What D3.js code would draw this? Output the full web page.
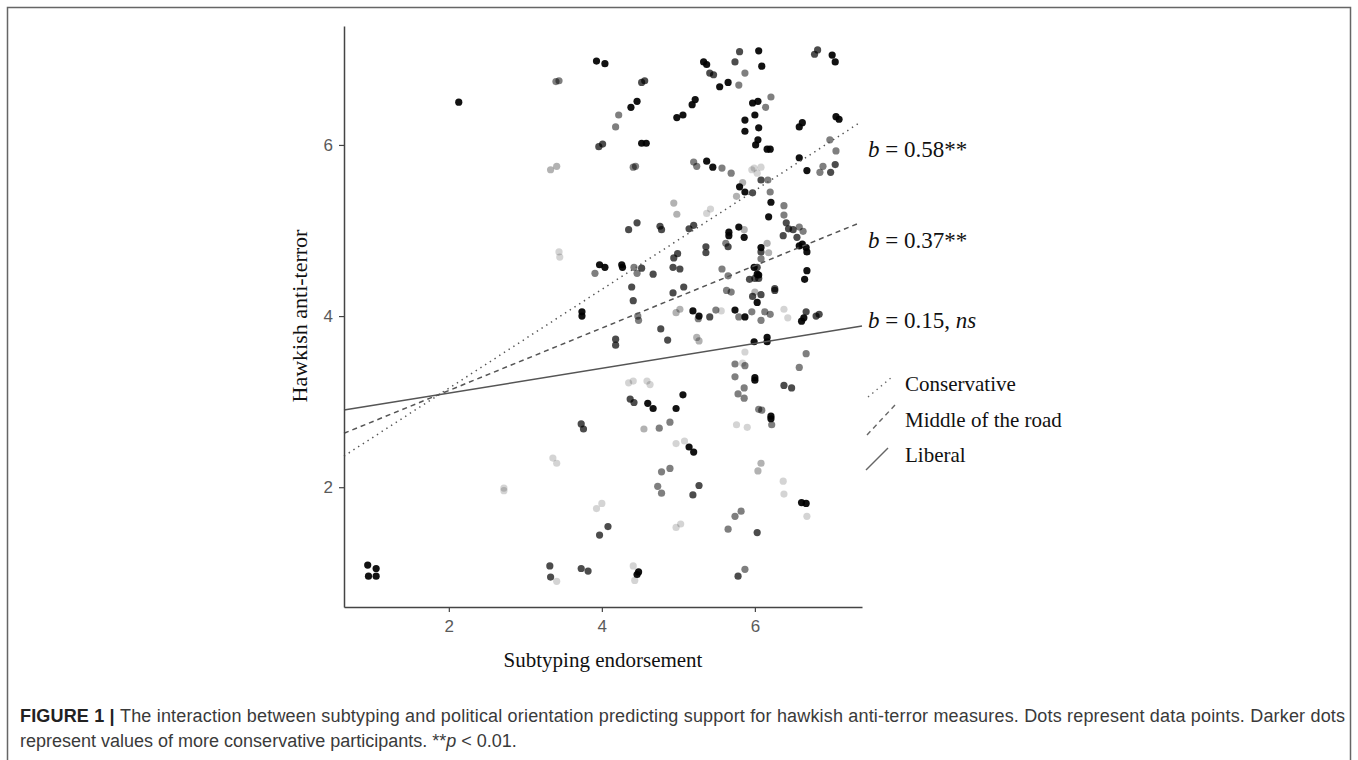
<!DOCTYPE html>
<html lang="en">
<head>
<meta charset="UTF-8">
<title>Subtyping and hawkish anti-terror support</title>
<script src="https://d3js.org/d3.v7.min.js"></script>
<style>
  body { margin: 0; background: #fff; }
  svg { display: block; }
  .tick text { font-family: "Liberation Sans", Arial, sans-serif; font-size: 17px; fill: #5a5a5a; }
  .serif { font-family: "Liberation Serif", "Times New Roman", serif; fill: #111; }
  .caption { font-family: "Liberation Sans", Arial, sans-serif; font-size: 18px; fill: #3a3a3a; }
</style>
</head>
<body>
<div id="chart"></div>
<script>
// points [subtyping, hawkish] grouped by political orientation (darker = more conservative)
const veryLiberal = [
  [5.37,5.20],[5.42,5.25],[5.96,5.71],[6.03,5.67],[6.08,5.74],[5.99,5.73],[5.56,4.06],
  [6.38,4.08],[6.43,3.98],[5.87,3.58],[5.84,3.45],[4.35,3.22],[4.41,3.24],[4.59,3.24],
  [4.63,3.20],[4.97,2.51],[5.08,2.54],[5.76,2.73],[5.90,2.70],[6.37,2.07],[6.38,1.92],
  [6.68,1.66],[4.97,1.53],[5.03,1.57],[4.41,1.08],[4.43,0.91],[3.41,0.90],[3.93,1.75],
  [4.00,1.81],[2.72,1.99],[2.72,1.96],[3.44,4.75],[3.45,4.69],[3.36,2.34],[3.41,2.28]
];
const liberal = [
  [3.33,5.71],[3.41,5.75],[4.94,5.32],[4.98,5.19],[5.84,5.56],[5.76,5.40],[6.16,4.85],
  [5.86,5.01],[6.18,4.74],[6.00,4.28],[4.97,4.04],[5.02,4.08],[5.24,3.75],[5.27,3.71],
  [4.55,2.68],[6.08,2.28],[6.04,2.19]
];
const middle = [
  [3.40,6.74],[3.44,6.75],[4.22,6.35],[4.18,6.21],[4.41,5.74],[4.44,5.75],[5.87,6.84],
  [5.79,6.70],[6.21,6.56],[6.14,6.44],[6.98,6.06],[7.06,5.93],[6.89,5.75],[6.85,5.68],
  [5.20,5.80],[5.24,5.75],[5.57,5.73],[5.69,5.67],[6.17,5.59],[6.20,5.45],[6.38,5.29],
  [6.38,5.18],[6.58,5.04],[6.63,4.99],[5.62,4.85],[3.91,4.50],[4.42,4.57],[4.46,4.50],
  [4.47,4.00],[4.48,3.95],[5.57,4.55],[5.65,4.47],[5.26,3.97],[5.49,4.07],[5.79,3.99],
  [5.96,4.05],[6.08,3.95],[6.13,4.05],[6.20,4.02],[5.63,4.30],[5.69,4.28],[6.08,4.67],
  [6.67,3.56],[6.58,3.40],[5.74,3.44],[5.87,3.42],[5.74,3.29],[5.86,3.16],[5.78,3.09],
  [5.86,3.04],[4.89,2.76],[4.75,2.69],[6.05,2.91],[6.09,2.90],[6.22,2.73],[4.78,2.18],
  [4.89,2.22],[4.73,2.01],[4.78,1.93],[5.65,1.51],[5.74,1.66],[5.82,1.72],[5.87,1.04]
];
const conservative = [
  [3.96,5.98],[4.01,6.01],[4.52,6.73],[4.56,6.75],[4.35,5.01],[4.46,5.09],[4.76,5.05],
  [4.78,5.01],[5.14,5.02],[5.20,5.06],[5.41,6.84],[5.46,6.82],[5.74,6.97],[5.80,7.09],
  [6.08,5.59],[5.97,5.44],[6.41,5.09],[6.44,5.02],[6.50,5.01],[6.37,4.94],[6.55,4.92],
  [5.65,4.81],[5.36,4.81],[5.36,4.74],[6.78,7.06],[6.82,7.11],[6.99,5.68],[7.05,5.77],
  [4.67,4.49],[4.39,4.34],[4.41,4.18],[4.94,4.68],[4.99,4.73],[4.93,4.57],[5.02,4.55],
  [5.07,4.34],[4.93,4.27],[5.41,3.99],[6.67,4.05],[6.80,4.00],[6.84,4.02],[5.93,4.43],
  [6.00,4.44],[6.05,4.44],[6.03,4.57],[6.08,4.75],[5.97,4.23],[6.08,4.25],[6.26,4.32],
  [6.26,4.30],[4.18,3.73],[4.18,3.66],[4.77,3.85],[4.86,3.72],[6.38,3.19],[6.48,3.16],
  [4.37,3.03],[4.42,2.99],[5.27,2.02],[5.19,1.91],[6.03,1.47],[5.78,0.96],[3.97,1.44],
  [4.08,1.54],[3.32,1.08],[3.33,0.95],[3.73,1.05],[3.82,1.02],[3.73,2.74],[3.76,2.68],
  [4.52,4.56]
];
const veryConservative = [
  [2.13,6.50],[3.93,6.98],[4.04,6.95],[4.38,6.44],[4.46,6.51],[4.52,6.02],[4.58,6.02],
  [4.98,6.32],[5.06,6.35],[5.18,6.47],[5.22,6.53],[5.33,6.97],[5.37,6.94],[5.54,6.68],
  [5.65,6.73],[6.05,7.10],[6.09,6.92],[5.97,6.49],[6.04,6.51],[5.87,6.29],[6.00,6.35],
  [5.87,6.16],[6.05,6.20],[6.04,6.06],[6.01,6.00],[6.16,5.95],[6.20,5.95],[6.58,6.21],
  [6.62,6.26],[7.01,7.05],[7.05,6.97],[7.06,6.33],[7.10,6.30],[6.58,5.85],[6.68,5.70],
  [5.37,5.81],[5.45,5.74],[5.80,5.51],[5.87,5.45],[6.21,5.33],[6.18,5.16],[6.58,4.82],
  [6.62,4.84],[6.67,4.80],[6.08,4.80],[5.79,5.04],[5.66,4.98],[5.66,4.94],[5.86,4.92],
  [3.97,4.60],[4.04,4.57],[4.26,4.60],[4.27,4.57],[5.19,4.06],[5.27,4.00],[5.74,4.07],
  [5.87,3.99],[6.61,3.94],[6.64,3.98],[5.99,4.57],[6.03,4.49],[6.05,4.48],[6.03,4.16],
  [6.68,4.75],[6.68,4.53],[6.65,4.43],[5.99,3.70],[6.16,3.75],[6.16,3.70],[6.00,3.28],
  [6.00,3.25],[4.60,2.98],[4.67,2.92],[5.06,3.08],[4.97,2.92],[5.14,2.47],[5.20,2.41],
  [6.21,2.83],[6.21,2.80],[6.61,1.82],[6.67,1.81],[4.46,0.98],[4.48,1.01],[0.94,1.09],
  [1.05,1.05],[0.95,0.96],[1.05,0.96],[3.74,4.05],[3.74,4.00]
];

// simple slopes (intercept, slope) per orientation group
const groups = ["Conservative", "Middle of the road", "Liberal"];
const intercepts = [2.00, 2.40, 2.81];
const slopes = [0.578, 0.365, 0.145];
const slopeLabels = ["0.58**", "0.37**", "0.15, "];
const labelY = [5.86, 4.80, 3.86];

const xTicks = [2, 4, 6];
const yTicks = [2, 4, 6];

const W = 1358, H = 760;
const svg = d3.select("#chart").append("svg").attr("width", W).attr("height", H);
svg.append("rect").attr("width", W).attr("height", H).attr("fill", "#fff");

// figure frame
svg.append("rect")
  .attr("x", 7.5).attr("y", 7.5).attr("width", 1343).attr("height", 800)
  .attr("fill", "none").attr("stroke", "#666").attr("stroke-width", 1.5);

const x = d3.scaleLinear().domain([0.63, 7.40]).range([344, 862]);
const y = d3.scaleLinear().domain([0.60, 7.39]).range([607, 26]);

// points
const layers = [
  { pts: veryLiberal, op: 0.17 },
  { pts: liberal, op: 0.3 },
  { pts: middle, op: 0.5 },
  { pts: conservative, op: 0.7 },
  { pts: veryConservative, op: 0.93 }
];
layers.forEach(l => {
  svg.append("g").selectAll("circle")
    .data(l.pts).enter().append("circle")
    .attr("cx", d => x(d[0]))
    .attr("cy", d => y(d[1]))
    .attr("r", 3.6)
    .attr("fill", "#000")
    .attr("fill-opacity", l.op);
});

// regression lines
const dashes = ["1.4,4.2", "5,4", null];
const xEnds = [7.37, 7.35, 7.40];
groups.forEach((g, i) => {
  const x0 = x.domain()[0], x1 = xEnds[i];
  svg.append("line")
    .attr("x1", x(x0)).attr("y1", y(intercepts[i] + slopes[i] * x0))
    .attr("x2", x(x1)).attr("y2", y(intercepts[i] + slopes[i] * x1))
    .attr("stroke", "#555").attr("stroke-width", 1.5)
    .attr("stroke-dasharray", dashes[i]);
});

// axes
const xAxis = svg.append("g")
  .attr("transform", "translate(0,607)")
  .call(d3.axisBottom(x).tickValues(xTicks).tickFormat(d3.format("d"))
    .tickSize(5).tickSizeOuter(0).tickPadding(8));
const yAxis = svg.append("g")
  .attr("transform", "translate(344,0)")
  .call(d3.axisLeft(y).tickValues(yTicks).tickFormat(d3.format("d"))
    .tickSize(5).tickSizeOuter(0).tickPadding(6));
[xAxis, yAxis].forEach(a => {
  a.select(".domain").attr("stroke", "#444").attr("stroke-width", 1.5);
  a.selectAll(".tick line").attr("stroke", "#444").attr("stroke-width", 1.2);
});

// axis titles
svg.append("text").attr("class", "serif")
  .attr("x", 603).attr("y", 667).attr("text-anchor", "middle")
  .style("font-size", "21px").text("Subtyping endorsement");
svg.append("text").attr("class", "serif")
  .attr("transform", "translate(307,316) rotate(-90)").attr("text-anchor", "middle")
  .style("font-size", "22px").text("Hawkish anti-terror");

// slope labels
groups.forEach((g, i) => {
  const t = svg.append("text").attr("class", "serif")
    .attr("x", 868).attr("y", y(labelY[i])).style("font-size", "23px");
  t.append("tspan").style("font-style", "italic").text("b");
  t.append("tspan").text(" = " + slopeLabels[i]);
  if (i === 2) t.append("tspan").style("font-style", "italic").text("ns");
});

// legend
const legendKeys = [
  { x1: 868, y1: 397, x2: 892, y2: 377, ty: 391 },
  { x1: 867, y1: 435, x2: 895, y2: 405, ty: 427 },
  { x1: 866, y1: 470, x2: 888, y2: 448, ty: 462 }
];
groups.forEach((g, i) => {
  const k = legendKeys[i];
  svg.append("line")
    .attr("x1", k.x1).attr("y1", k.y1).attr("x2", k.x2).attr("y2", k.y2)
    .attr("stroke", "#666").attr("stroke-width", 1.4)
    .attr("stroke-dasharray", dashes[i]);
  svg.append("text").attr("class", "serif")
    .attr("x", 905).attr("y", k.ty).style("font-size", "21px").text(g);
});

// caption
const c1 = svg.append("text").attr("class", "caption").attr("x", 20).attr("y", 722)
  .attr("textLength", 1325).attr("lengthAdjust", "spacing");
c1.append("tspan").style("font-weight", "bold").attr("fill", "#222").text("FIGURE 1 | ");
c1.append("tspan").text("The interaction between subtyping and political orientation predicting support for hawkish anti-terror measures. Dots represent data points. Darker dots");
const c2 = svg.append("text").attr("class", "caption").attr("x", 20).attr("y", 747);
c2.append("tspan").text("represent values of more conservative participants. **");
c2.append("tspan").style("font-style", "italic").text("p");
c2.append("tspan").text(" < 0.01.");
</script>
</body>
</html>
